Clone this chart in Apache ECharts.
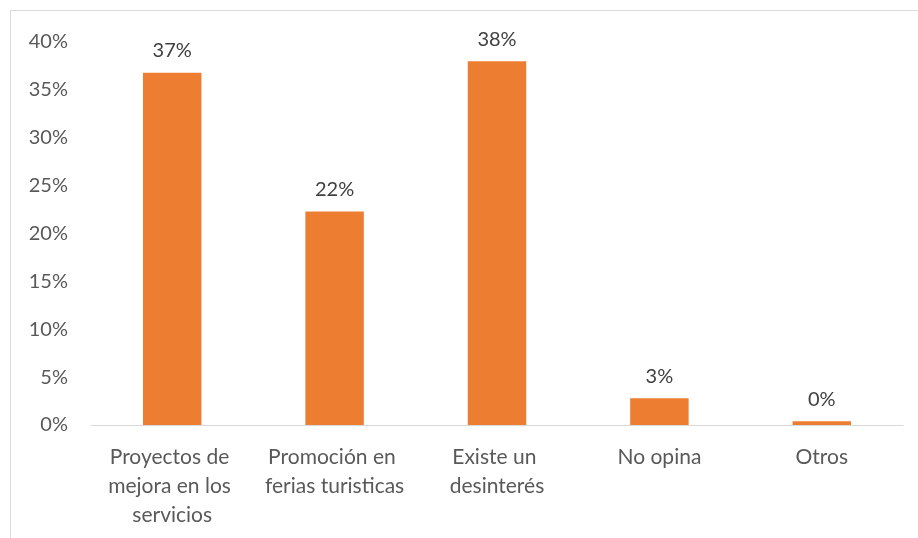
<!DOCTYPE html>
<html>
<head>
<meta charset="utf-8">
<script src="https://cdn.jsdelivr.net/npm/echarts@6/dist/echarts.min.js"></script>
<style>
html,body{margin:0;padding:0;background:#fff;}
#chart{width:918px;height:538px;}
</style>
</head>
<body>
<div id="chart"></div>
<script>
var categories = ["Proyectos de mejora en los servicios", "Promoción en ferias turisticas", "Existe un desinterés", "No opina", "Otros"];
var values = [36.8, 22.3, 38.0, 2.8, 0.4];
var yTicks = { min: 0, max: 40, interval: 5 };

var chart = echarts.init(document.getElementById('chart'));
var font = 'Lato';
chart.setOption({
  animation: false,
  backgroundColor: '#ffffff',
  graphic: [{
    type: 'rect', silent: true,
    shape: { x: 10.5, y: 10.5, width: 1000, height: 1000 },
    style: { fill: 'none', stroke: '#D9D9D9', lineWidth: 1 }
  }],
  grid: { left: 91, right: 15, top: 42, bottom: 113, containLabel: false },
  xAxis: {
    type: 'category',
    data: categories,
    axisLine: { lineStyle: { color: '#D9D9D9', width: 1 } },
    axisTick: { show: false },
    axisLabel: {
      interval: 0, color: '#595959', fontFamily: font, fontSize: 21,
      width: 152, overflow: 'break', lineHeight: 29, margin: 18
    }
  },
  yAxis: {
    type: 'value',
    min: yTicks.min, max: yTicks.max, interval: yTicks.interval,
    splitLine: { show: false },
    axisLine: { show: false },
    axisTick: { show: false },
    axisLabel: { formatter: '{value}%', color: '#595959', fontFamily: font, fontSize: 20, margin: 23 }
  },
  series: [{
    type: 'bar',
    data: values,
    barWidth: '36%',
    itemStyle: { color: '#ED7D31' },
    label: {
      show: true, position: 'top', distance: 12,
      color: '#404040', fontFamily: font, fontSize: 20,
      formatter: function (p) { return Math.round(p.value) + '%'; }
    }
  }]
});
</script>
</body>
</html>
